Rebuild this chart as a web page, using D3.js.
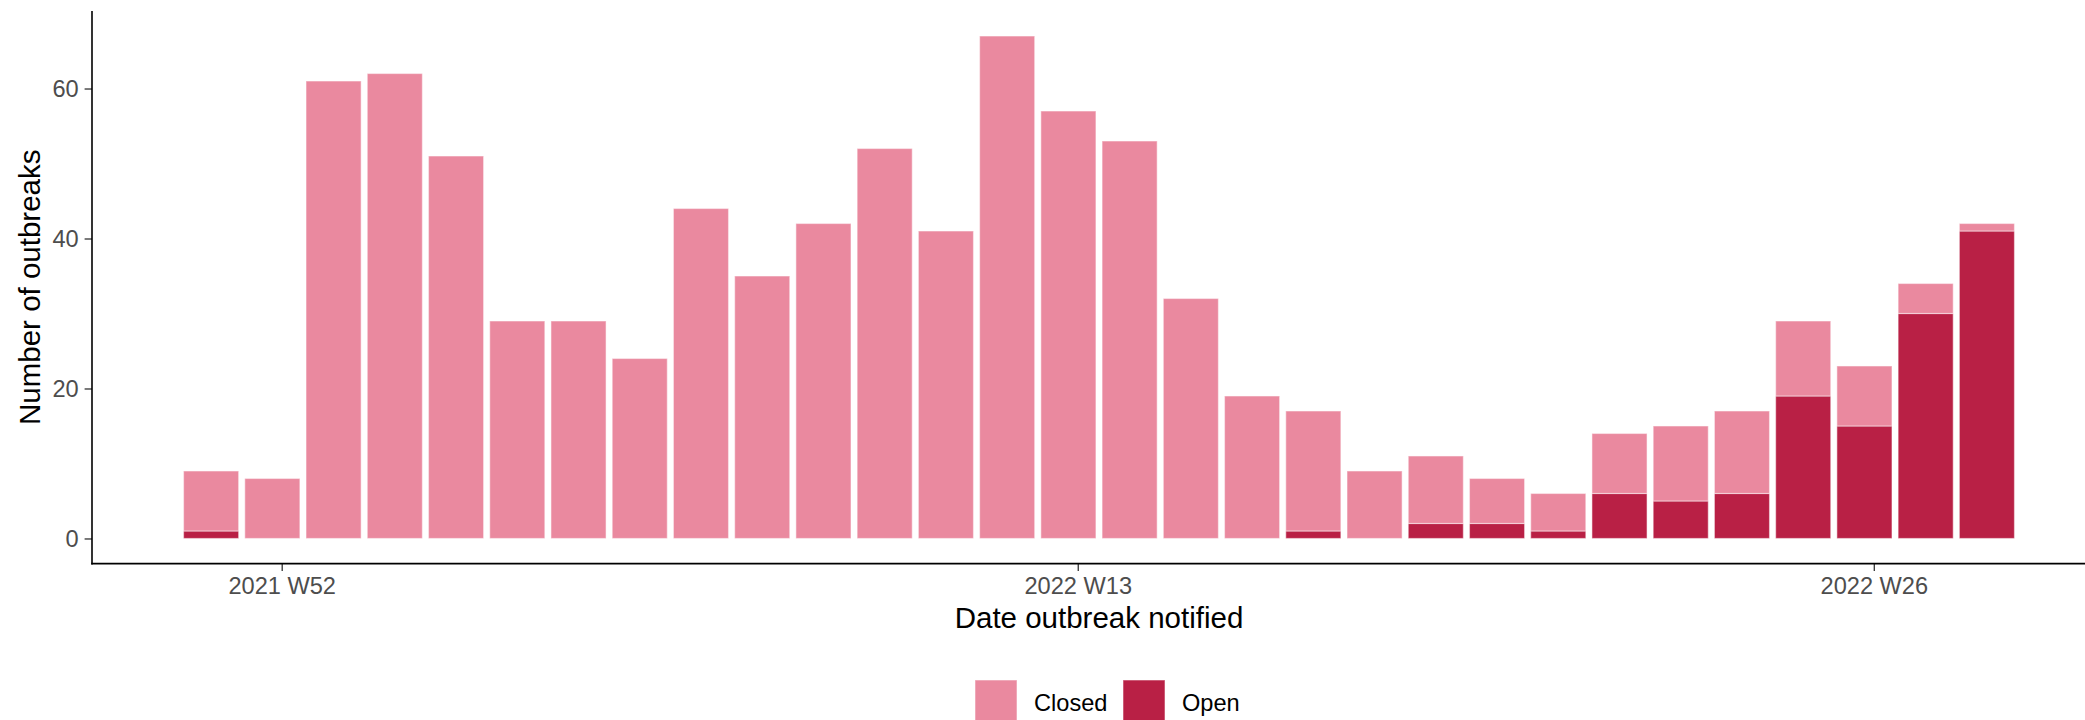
<!DOCTYPE html>
<html>
<head>
<meta charset="utf-8">
<script src="https://cdn.jsdelivr.net/npm/d3@7"></script>
<style>
  html, body { margin: 0; padding: 0; background: #fff; }
  svg { display: block; font-family: "Liberation Sans", Arial, sans-serif; }
</style>
</head>
<body>
<svg id="chart" width="2085" height="720"></svg>
<script>
// ---- data ----
const weekIndex = d3.range(30);
const totalOutbreaks = [9, 8, 61, 62, 51, 29, 29, 24, 44, 35, 42, 52, 41, 67, 57, 53, 32, 19, 17, 9, 11, 8, 6, 14, 15, 17, 29, 23, 34, 42];
const openOutbreaks  = [1, 0, 0, 0, 0, 0, 0, 0, 0, 0, 0, 0, 0, 0, 0, 0, 0, 0, 1, 0, 2, 2, 1, 6, 5, 6, 19, 15, 30, 41];
const closedOutbreaks = totalOutbreaks.map((t, i) => t - openOutbreaks[i]);
const statusLabels = ["Closed", "Open"];
const statusColors = ["#EA899F", "#B92045"];
const xTickLabels = ["2021 W52", "2022 W13", "2022 W26"];
const xTickPositions = [1.153, 14.153, 27.153];
const yTickValues = [0, 20, 40, 60];

// ---- layout ----
const svg = d3.select("#chart");
const panel = { left: 92, right: 2106, top: 10.9, bottom: 563.6 };

const x = d3.scaleLinear().domain([-1.945, 30.945]).range([panel.left, panel.right]);
const y = d3.scaleLinear().domain([-3.35, 70.35]).range([panel.bottom, panel.top]);
const barW = x(0.9) - x(0);

const rows = weekIndex.map(i => ({ i, open: openOutbreaks[i], closed: closedOutbreaks[i] }));
const stack = d3.stack().keys(["open", "closed"])(rows);
const colorFor = { open: statusColors[1], closed: statusColors[0] };

const g = svg.append("g");
stack.forEach(layer => {
  g.selectAll(null)
    .data(layer.filter(d => d[1] - d[0] > 0))
    .enter().append("rect")
    .attr("x", d => x(d.data.i) - barW / 2)
    .attr("width", barW)
    .attr("y", d => y(d[1]))
    .attr("height", d => y(d[0]) - y(d[1]))
    .attr("fill", colorFor[layer.key])
    .attr("stroke", "#fff")
    .attr("stroke-opacity", 0.45)
    .attr("stroke-width", 1.2);
});

// ---- axes ----
const yAxis = d3.axisLeft(y).tickValues(yTickValues).tickSize(7.4).tickPadding(5.9);
const yG = svg.append("g").attr("transform", `translate(${panel.left},0)`).call(yAxis);
yG.select(".domain").remove();
yG.selectAll(".tick line").attr("stroke", "#333").attr("stroke-width", 1.3);
yG.selectAll(".tick text").attr("fill", "#4D4D4D").attr("font-size", 23.6)
  .attr("font-family", "Liberation Sans, Arial, sans-serif");

const xAxis = d3.axisBottom(x).tickValues(xTickPositions)
  .tickFormat((d, i) => xTickLabels[i]).tickSize(7.4).tickPadding(5.9);
const xG = svg.append("g").attr("transform", `translate(0,${panel.bottom})`).call(xAxis);
xG.select(".domain").remove();
xG.selectAll(".tick line").attr("stroke", "#333").attr("stroke-width", 1.3);
xG.selectAll(".tick text").attr("fill", "#4D4D4D").attr("font-size", 23.6)
  .attr("font-family", "Liberation Sans, Arial, sans-serif");

// axis lines
svg.append("line").attr("x1", panel.left).attr("x2", panel.left)
  .attr("y1", panel.top).attr("y2", panel.bottom + 0.8)
  .attr("stroke", "#000").attr("stroke-width", 1.6);
svg.append("line").attr("x1", panel.left - 0.8).attr("x2", panel.right)
  .attr("y1", panel.bottom).attr("y2", panel.bottom)
  .attr("stroke", "#000").attr("stroke-width", 1.6);

// axis titles
svg.append("text").attr("x", (panel.left + panel.right) / 2).attr("y", 628)
  .attr("text-anchor", "middle").attr("font-size", 29.5).attr("fill", "#000")
  .text("Date outbreak notified");
svg.append("text")
  .attr("transform", `translate(40,${(panel.top + panel.bottom) / 2}) rotate(-90)`)
  .attr("text-anchor", "middle").attr("font-size", 29.5).attr("fill", "#000")
  .text("Number of outbreaks");

// legend
const legendX = [975, 1123];
const lg = svg.append("g");
statusLabels.forEach((lab, i) => {
  lg.append("rect").attr("x", legendX[i]).attr("y", 680).attr("width", 42).attr("height", 42)
    .attr("fill", statusColors[i]).attr("stroke", "#fff").attr("stroke-opacity", 0.45).attr("stroke-width", 1.2);
  lg.append("text").attr("x", legendX[i] + 59).attr("y", 711)
    .attr("font-size", 23.6).attr("fill", "#000").text(lab);
});
</script>
</body>
</html>
